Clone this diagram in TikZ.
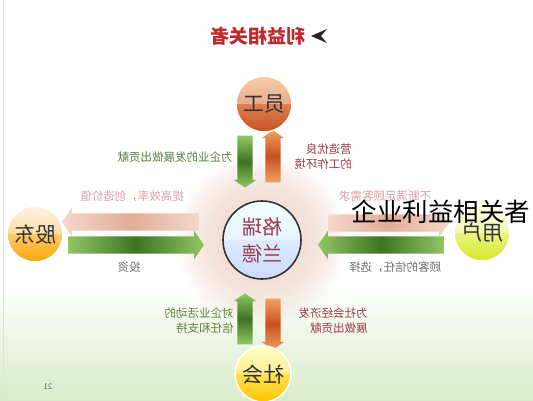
\documentclass[tikz,border=0pt]{standalone}
\usepackage{fontspec}
\newfontfamily\cjk{Noto Sans CJK SC}
\usetikzlibrary{shapes.arrows}
\definecolor{Tt}{HTML}{C0282E}
\definecolor{Gr}{HTML}{5E7E3E}
\definecolor{Rb}{HTML}{9A3A48}
\definecolor{Pk}{HTML}{D9A0A6}
\definecolor{Gy}{HTML}{6E6E6E}
\definecolor{Gl}{HTML}{92C664}
\definecolor{Gd}{HTML}{3C7420}
\definecolor{Ol}{HTML}{EFA060}
\definecolor{Od}{HTML}{C8501E}
\definecolor{Sl}{HTML}{F4D8CC}
\definecolor{Sd}{HTML}{E2AC96}
\tikzset{
  flip/.style={xscale=-1},
  ball/.style={circle, minimum size=56pt, inner sep=0pt, draw=white, line width=1.5pt, flip,
    font=\cjk\fontsize{21}{21}\selectfont, text=black!80,
    path picture={\fill[white, opacity=.35] (path picture bounding box.north west) rectangle (path picture bounding box.east);}},
  lab/.style={flip, font=\cjk\fontsize{11.5}{15}\selectfont, align=left},
  barrow/.style={single arrow, inner sep=7.5pt, minimum width=0pt, single arrow head extend=3.5pt, single arrow tip angle=110},
  harrow/.style={barrow, inner sep=8.5pt, single arrow head extend=5.5pt},
}

\begin{document}
\begin{tikzpicture}[x=1pt, y=-1pt]
    \useasboundingbox (0,0) rectangle (533,400);
    \fill[white] (0,0) rectangle (533,400);
    \fill[top color=white, bottom color=Gl!35] (0,285) rectangle (533,400);
    \foreach \r in {84,81,...,42}
      \fill[Sl, opacity=.08] (262,240) circle (\r pt);
    \draw[black!12] (3,0) -- (3,400);

    % arrows
    \node at (245,159) (ygdown) [barrow, minimum height=52pt, shape border rotate=270, top color=Gl, bottom color=Gl, middle color=Gd] {};
    \node at (273,159) (ygup) [barrow, minimum height=52pt, shape border rotate=90, top color=Ol, bottom color=Ol, middle color=Od] {};
    \node at (245,321.5) (shup) [barrow, minimum height=51pt, shape border rotate=90, top color=Gl, bottom color=Gl, middle color=Gd] {};
    \node at (273,321.5) (shdown) [barrow, minimum height=51pt, shape border rotate=270, top color=Ol, bottom color=Ol, middle color=Od] {};
    \node at (133.5,222) (gdleft) [harrow, minimum height=137pt, shape border rotate=180, left color=Sl, right color=Sl, middle color=Sd] {};
    \node at (133,245) (gdright) [harrow, minimum height=136pt, left color=Gl, right color=Gl, middle color=Gd] {};
    \node at (385.5,223) (yhright) [harrow, minimum height=121pt, left color=Sl, right color=Sl, middle color=Sd] {};
    \node at (384,245) (yhleft) [harrow, minimum height=126pt, shape border rotate=180, left color=Gl, right color=Gl, middle color=Gd] {};

    % circles
    \node at (264,104) (yg) [ball, top color=Ol!80, bottom color=Od] {员工};
    \node at (35,234) (gd) [ball, top color=Ol!20, bottom color=orange!70!yellow] {股东};
    \node at (482,233) (yh) [ball, top color=yellow!15, bottom color=yellow!60!Gl] {用户};
    \node at (263,374) (sh) [ball, top color=yellow!35, bottom color=orange!45!yellow] {社会};
    \node at (262,240) (grld) [ball, minimum size=78pt, draw=black!80, line width=1.6pt, top color=cyan!8, bottom color=cyan!25!blue!20,
      font=\cjk\fontsize{20}{27}\selectfont, text=Rb, align=center] {格瑞\\兰德};

    % labels
    \node at (175,157) (l1) [lab, text=Gr] {为企业的发展做出贡献};
    \node at (323,157) (l2) [lab, text=Rb] {营造优良\\的工作环境};
    \node at (132,196) (l3) [lab, text=Pk] {提高效率，创造价值};
    \node at (129,267) (l4) [lab, text=Gy] {投资};
    \node at (385,196) (l5) [lab, text=Pk] {不断满足顾客需求};
    \node at (395,267) (l6) [lab, text=Gy] {顾客的信任，选择};
    \node at (199,321) (l7) [lab, text=Gr] {对企业活动的\\信任和支持};
    \node at (333,321) (l8) [lab, text=Rb] {为社会经济发\\展做出贡献};

    % title
    \node at (258,36) (title) [flip, font=\cjk\bfseries\fontsize{19}{19}\selectfont, text=Tt] {利益相关者};
    \fill[black!85] (311,36) -- (327,29) -- (321,36) -- (327,43) -- cycle;
    \node at (48,387) (pg) [flip, font=\cjk\fontsize{8}{8}\selectfont, text=Gy] {21};

    \node at (441,212) (ovl) [font=\cjk\fontsize{25.5}{26}\selectfont, text=black] {企业利益相关者};
\end{tikzpicture}
\end{document}
